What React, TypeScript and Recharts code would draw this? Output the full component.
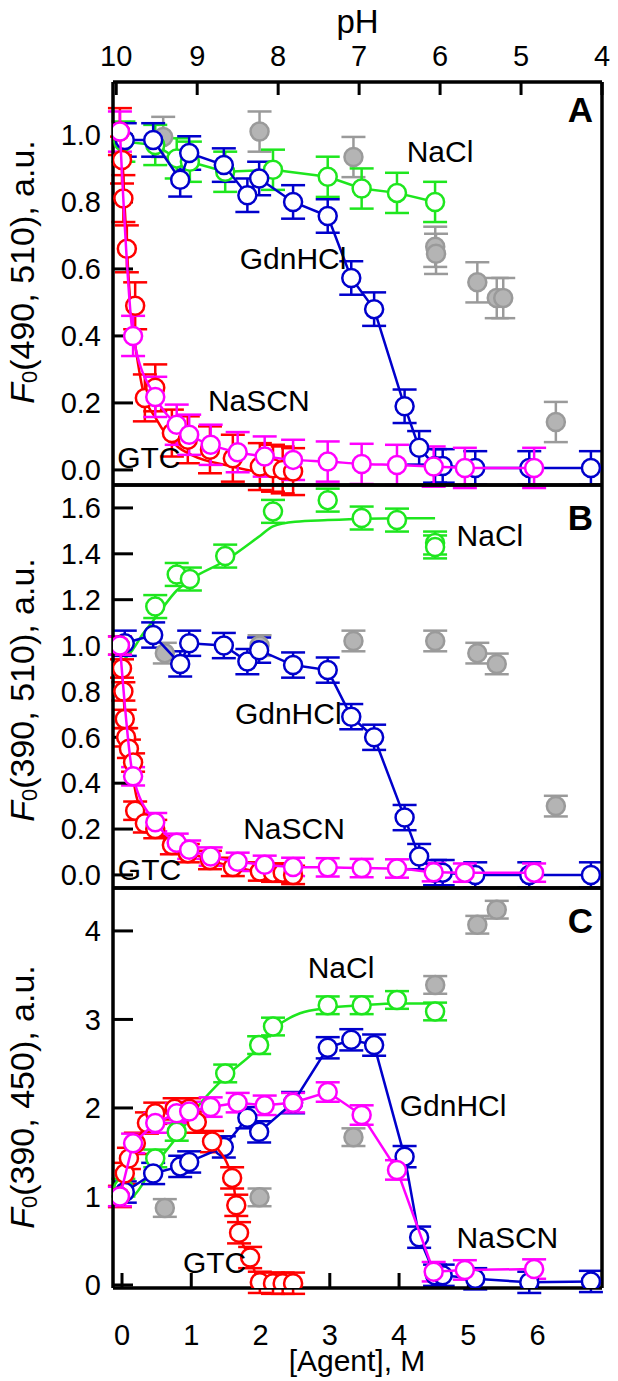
import React from 'react';
import { ComposedChart, Scatter, Line, XAxis, YAxis, ErrorBar, ReferenceDot, Label } from 'recharts';

const FONT = '"Liberation Sans", Arial, sans-serif';
const GREEN = '#1ee61e';
const BLUE = '#0000cc';
const RED = '#ff0000';
const MAGENTA = '#ff00ff';
const GRAY = '#9a9a9a';
const GRAY_FILL = '#b4b4b4';

const W = 618;
const H = 1381;
const X_DOMAIN: [number, number] = [-0.13, 6.93];
const PH_DOMAIN: [number, number] = [4, 10.04];

const agentTicks = [0, 1, 2, 3, 4, 5, 6];
const phTicks = [10, 9, 8, 7, 6, 5, 4];
const ticksA = [0, 0.2, 0.4, 0.6, 0.8, 1.0];
const ticksB = [0, 0.2, 0.4, 0.6, 0.8, 1.0, 1.2, 1.4, 1.6];
const ticksC = [0, 1, 2, 3, 4];

// [Agent], M positions of each titration
const greenX = [0.02, 0.48, 0.79, 0.98, 1.49, 2.18, 2.97, 3.46, 3.97, 4.52];
const greenXC = [0.02, 0.48, 0.79, 1.49, 1.98, 2.18, 2.97, 3.46, 3.97, 4.52];
const blueX = [0.04, 0.45, 0.84, 0.97, 1.47, 1.81, 1.98, 2.47, 2.97, 3.31, 3.64, 4.08, 4.29, 4.52, 4.63, 5.1, 5.88, 6.77];
const magentaX = [-0.03, 0.16, 0.48, 0.79, 0.97, 1.28, 1.67, 2.06, 2.47, 2.97, 3.46, 3.97, 4.5, 4.95, 5.95];
const redXA = [-0.03, 0.0, 0.02, 0.07, 0.19, 0.33, 0.48, 0.72, 0.95, 1.27, 1.6, 1.99, 2.18, 2.32, 2.47];
const redXB = [-0.03, 0.0, 0.02, 0.04, 0.06, 0.1, 0.16, 0.19, 0.33, 0.48, 0.72, 0.95, 1.27, 1.6, 1.99, 2.18, 2.32, 2.47];
const redXC = [-0.03, 0.04, 0.1, 0.2, 0.36, 0.48, 0.76, 0.97, 1.08, 1.3, 1.59, 1.65, 1.69, 1.85, 1.99, 2.18, 2.32, 2.47];

// panel A: F0(490, 510)
const greenA = [0.98, 0.97, 0.93, 0.92, 0.89, 0.896, 0.875, 0.84, 0.827, 0.8];
const blueA = [0.985, 0.985, 0.866, 0.946, 0.91, 0.82, 0.87, 0.8, 0.758, 0.573, 0.48, 0.19, 0.066, 0.012, 0.012, 0.006, 0.006, 0.006];
const redA = [1.01, 0.925, 0.81, 0.66, 0.49, 0.215, 0.245, 0.11, 0.09, 0.06, 0.035, 0.01, 0.005, 0.0, -0.005];
const magentaA = [1.01, 0.4, 0.218, 0.135, 0.105, 0.075, 0.053, 0.04, 0.03, 0.025, 0.018, 0.015, 0.01, 0.006, 0.006];
const redFitXA = [-0.03, 0.0, 0.04, 0.09, 0.14, 0.2, 0.3, 0.5, 0.8, 1.0, 1.6, 2.08, 2.47];
const redFitA = [1.0, 0.95, 0.78, 0.59, 0.45, 0.36, 0.24, 0.15, 0.07, 0.045, 0.01, -0.01, -0.015];
const grayPhA = [9.42, 8.23, 7.07, 6.06, 6.05, 5.54, 5.3, 5.22, 4.57];
const grayA = [0.994, 1.01, 0.934, 0.666, 0.645, 0.56, 0.513, 0.513, 0.143];

// panel B: F0(390, 510)
const greenXB = [0.48, 0.79, 0.98, 1.49, 2.18, 2.97, 3.46, 3.97, 4.52, 4.52];
const greenB = [1.17, 1.31, 1.29, 1.39, 1.585, 1.634, 1.556, 1.547, 1.447, 1.43];
const greenFitXB = [0.0, 0.15, 0.3, 0.48, 0.79, 1.0, 1.49, 2.0, 2.18, 2.5, 2.97, 3.5, 4.0, 4.52];
const greenFitB = [0.93, 0.98, 1.05, 1.12, 1.24, 1.29, 1.37, 1.48, 1.52, 1.54, 1.547, 1.553, 1.555, 1.555];
const blueB = [1.01, 1.046, 0.92, 1.01, 1.0, 0.93, 0.98, 0.915, 0.893, 0.69, 0.6, 0.25, 0.08, 0.01, 0.01, 0.0, 0.0, 0.0];
const redB = [1.0, 0.9, 0.8, 0.68, 0.6, 0.55, 0.49, 0.28, 0.225, 0.2, 0.13, 0.095, 0.065, 0.035, 0.015, 0.01, 0.01, 0.0];
const redFitXB = [-0.03, 0.0, 0.04, 0.1, 0.15, 0.21, 0.3, 0.45, 0.65, 1.13, 1.85, 2.47];
const redFitB = [1.0, 0.9, 0.7, 0.52, 0.44, 0.34, 0.27, 0.2, 0.15, 0.08, 0.02, 0.0];
const magentaB = [1.0, 0.43, 0.23, 0.14, 0.11, 0.08, 0.057, 0.044, 0.035, 0.033, 0.03, 0.028, 0.012, 0.01, 0.01];
const grayPhB = [9.4, 8.23, 7.07, 6.06, 5.54, 5.3, 4.57];
const grayB = [0.967, 1.0, 1.02, 1.02, 0.967, 0.92, 0.3];

// panel C: F0(390, 450)
const greenC = [1.1, 1.43, 1.73, 2.39, 2.71, 2.92, 3.16, 3.16, 3.22, 3.09];
const greenFitXC = [0.0, 0.16, 0.45, 0.79, 1.13, 1.49, 1.98, 2.18, 2.57, 2.97, 3.46, 3.97, 4.52];
const greenFitC = [0.95, 1.0, 1.33, 1.67, 2.05, 2.35, 2.69, 2.88, 3.07, 3.13, 3.16, 3.18, 3.18];
const blueC = [1.05, 1.26, 1.34, 1.39, 1.56, 1.89, 1.73, 2.06, 2.68, 2.77, 2.71, 1.45, 0.54, 0.11, 0.11, 0.07, 0.03, 0.04];
const redC = [1.0, 1.26, 1.43, 1.6, 1.83, 1.94, 1.99, 1.99, 1.84, 1.62, 1.21, 0.9, 0.59, 0.31, 0.03, 0.02, 0.02, 0.02];
const magentaC = [1.0, 1.6, 1.83, 1.94, 1.96, 2.01, 2.06, 2.03, 2.06, 2.18, 1.92, 1.3, 0.15, 0.17, 0.18];
const grayPhC = [9.4, 8.23, 7.07, 6.06, 5.54, 5.3];
const grayC = [0.87, 0.99, 1.67, 3.39, 4.07, 4.24];

type P = { x: number; y: number; e: number };
const pts = (xs: number[], ys: number[], e = 0): P[] => xs.map((x, i) => ({ x, y: ys[i], e }));

type Curve = { data: P[]; color: string; kind: 'linear' | 'monotone' | 'none'; fit?: P[] };
type Note = { t: string; x: number; y: number };

const ring = (color: string) => (p: any) => (
  <circle cx={p.cx} cy={p.cy} r={9} fill="#fff" stroke={color} strokeWidth={2.5} />
);
const grayDot = (p: any) => <circle cx={p.cx} cy={p.cy} r={9} fill={GRAY_FILL} stroke={GRAY} strokeWidth={2.5} />;

function YTitle({ cy, wl }: { cy: number; wl: string }) {
  const cx = 22;
  return (
    <text x={cx} y={cy} transform={`rotate(-90, ${cx}, ${cy})`} textAnchor="middle" dominantBaseline="central"
      fontSize={34} fontFamily={FONT} fill="#000">
      <tspan fontStyle="italic">F</tspan>
      <tspan fontSize={22} dy={7}>0</tspan>
      <tspan dy={-7}>{`(${wl}), a.u.`}</tspan>
    </text>
  );
}

function XTitle({ cy }: { cy: number }) {
  return (
    <text x={357} y={cy} textAnchor="middle" dominantBaseline="central" fontSize={30} fontFamily={FONT} fill="#000">
      [Agent], M
    </text>
  );
}

type PanelProps = {
  top: number; bottom: number; domain: [number, number]; ticks: number[]; digits: number;
  curves: Curve[]; gray: P[]; notes: Note[]; letter: Note; wl: string; titleY: number;
  showTop?: boolean; showBottom?: boolean;
};

const axisLine = { stroke: '#000', strokeWidth: 3.5 };
const tickLine = { stroke: '#000', strokeWidth: 3 };
const tickFont = { fill: '#000', fontSize: 29, fontFamily: FONT };

// axes get a 1px box (zero-sized axes are not drawn), margins are reduced to match
function Panel(props: PanelProps) {
  const { top, bottom, domain, ticks, digits, curves, gray, notes, letter, wl, titleY, showTop, showBottom } = props;
  return (
    <div style={{ position: 'absolute', left: 0, top: 0 }}>
      <ComposedChart width={W} height={H} margin={{ top: top - 1, bottom: H - bottom - 1, left: 112, right: 15 }}>
        <XAxis xAxisId="agent" dataKey="x" type="number" orientation="bottom" domain={X_DOMAIN} allowDataOverflow
          ticks={agentTicks} interval={0} height={1} tickSize={-15} tickMargin={51}
          tick={showBottom ? tickFont : false} axisLine={axisLine} tickLine={tickLine}>
          {showBottom && <Label content={<XTitle cy={1360} />} />}
        </XAxis>
        <XAxis xAxisId="ph" dataKey="x" type="number" orientation="top" domain={PH_DOMAIN} reversed allowDataOverflow
          ticks={phTicks} interval={0} height={1} tickSize={-13} tickMargin={29}
          tick={showTop ? tickFont : false} axisLine={axisLine} tickLine={tickLine}>
          {showTop && <Label value="pH" position="top" offset={48} fontSize={33} fontFamily={FONT} fill="#000" />}
        </XAxis>
        <YAxis yAxisId="y" dataKey="y" type="number" domain={domain} allowDataOverflow ticks={ticks} interval={0}
          width={1} tickSize={-20} tickMargin={32} tick={tickFont} tickFormatter={(v: number) => v.toFixed(digits)}
          axisLine={axisLine} tickLine={tickLine}>
          <Label content={<YTitle cy={titleY} wl={wl} />} />
        </YAxis>
        <YAxis yAxisId="r" orientation="right" type="number" domain={domain} allowDataOverflow width={1}
          tick={false} tickLine={false} axisLine={axisLine} />

        <Scatter data={gray} xAxisId="ph" yAxisId="y" shape={grayDot} fill={GRAY_FILL} isAnimationActive={false}>
          <ErrorBar dataKey="e" direction="y" width={12} stroke={GRAY} strokeWidth={2.5} isAnimationActive={false} />
        </Scatter>

        {curves.map((c, i) => (
          <React.Fragment key={i}>
            {c.fit && (
              <Line data={c.fit} dataKey="y" xAxisId="agent" yAxisId="y" type="monotone" dot={false}
                stroke={c.color} strokeWidth={2.5} isAnimationActive={false} />
            )}
            <Scatter data={c.data} xAxisId="agent" yAxisId="y" shape={ring(c.color)} fill={c.color}
              line={c.kind === 'none' ? false : { stroke: c.color, strokeWidth: 2.5 }}
              lineJointType={c.kind === 'monotone' ? 'monotoneX' : 'linear'} isAnimationActive={false}>
              <ErrorBar dataKey="e" direction="y" width={12} stroke={c.color} strokeWidth={2.5} isAnimationActive={false} />
            </Scatter>
          </React.Fragment>
        ))}

        {notes.map((n) => (
          <ReferenceDot key={n.t} xAxisId="agent" yAxisId="y" x={n.x} y={n.y} r={0} fill="none" stroke="none"
            label={{ value: n.t, position: 'right', offset: 0, fontSize: 30, fontFamily: FONT, fill: '#000' }} />
        ))}
        <ReferenceDot xAxisId="agent" yAxisId="y" x={letter.x} y={letter.y} r={0} fill="none" stroke="none"
          label={{ value: letter.t, position: 'left', offset: 0, fontSize: 35, fontWeight: 'bold', fontFamily: FONT, fill: '#000' }} />
      </ComposedChart>
    </div>
  );
}

export default function App() {
  const curvesA: Curve[] = [
    { data: pts(greenX, greenA, 0.06), color: GREEN, kind: 'linear' },
    { data: pts(blueX, blueA, 0.05), color: BLUE, kind: 'linear' },
    { data: pts(redXA, redA, 0.07), color: RED, kind: 'none', fit: pts(redFitXA, redFitA) },
    { data: pts(magentaX, magentaA, 0.06), color: MAGENTA, kind: 'monotone' },
  ];
  const curvesB: Curve[] = [
    { data: pts(greenXB, greenB, 0.05), color: GREEN, kind: 'none', fit: pts(greenFitXB, greenFitB) },
    { data: pts(blueX, blueB, 0.055), color: BLUE, kind: 'linear' },
    { data: pts(redXB, redB, 0.04), color: RED, kind: 'none', fit: pts(redFitXB, redFitB) },
    { data: pts(magentaX, magentaB, 0.04), color: MAGENTA, kind: 'monotone' },
  ];
  const curvesC: Curve[] = [
    { data: pts(greenXC, greenC, 0.1), color: GREEN, kind: 'none', fit: pts(greenFitXC, greenFitC) },
    { data: pts(blueX, blueC, 0.12), color: BLUE, kind: 'linear' },
    { data: pts(redXC, redC, 0.12), color: RED, kind: 'monotone' },
    { data: pts(magentaX, magentaC, 0.11), color: MAGENTA, kind: 'linear' },
  ];
  return (
    <div style={{ position: 'absolute', left: 0, top: 0, width: W, height: H, background: '#fff' }}>
      <Panel top={82} bottom={485} domain={[-0.045, 1.158]} ticks={ticksA} digits={1} curves={curvesA}
        gray={pts(grayPhA, grayA, 0.06)} wl="490, 510" titleY={272} showTop
        notes={[
          { t: 'NaCl', x: 4.11, y: 0.952 }, { t: 'GdnHCl', x: 1.7, y: 0.633 },
          { t: 'NaSCN', x: 1.24, y: 0.209 }, { t: 'GTC', x: -0.07, y: 0.039 },
        ]}
        letter={{ t: 'A', x: 6.8, y: 1.075 }} />
      <Panel top={485} bottom={888} domain={[-0.057, 1.7]} ticks={ticksB} digits={1} curves={curvesB}
        gray={pts(grayPhB, grayB, 0.045)} wl="390, 510" titleY={690}
        notes={[
          { t: 'NaCl', x: 4.83, y: 1.48 }, { t: 'GdnHCl', x: 1.63, y: 0.706 },
          { t: 'NaSCN', x: 1.75, y: 0.205 }, { t: 'GTC', x: -0.06, y: 0.026 },
        ]}
        letter={{ t: 'B', x: 6.8, y: 1.56 }} />
      <Panel top={888} bottom={1288} domain={[-0.034, 4.485]} ticks={ticksC} digits={0} curves={curvesC}
        gray={pts(grayPhC, grayC, 0.1)} wl="390, 450" titleY={1097} showBottom
        notes={[
          { t: 'NaCl', x: 2.68, y: 3.59 }, { t: 'GdnHCl', x: 4.01, y: 2.03 },
          { t: 'NaSCN', x: 4.83, y: 0.54 }, { t: 'GTC', x: 0.88, y: 0.26 },
        ]}
        letter={{ t: 'C', x: 6.8, y: 4.12 }} />
    </div>
  );
}
